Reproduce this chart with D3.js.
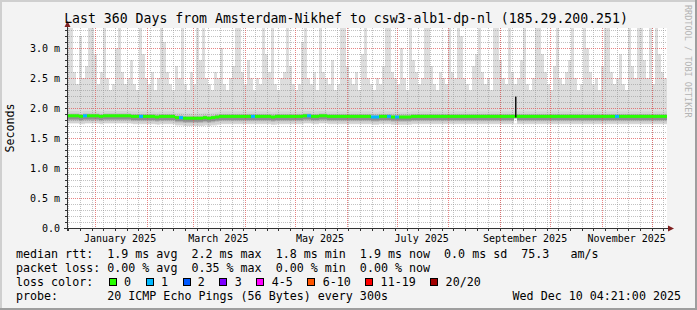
<!DOCTYPE html>
<html>
<head>
<meta charset="utf-8">
<script src="https://cdn.jsdelivr.net/npm/d3@7"></script>
<style>
  body { margin: 0; background: #fff; }
  svg { display: block; }
  text { font-family: "DejaVu Sans Mono", monospace; fill: #000; }
</style>
</head>
<body>
<svg id="chart" width="697" height="310"></svg>
<script>
// --- Data ---
const titleText = "Last 360 Days from Amsterdam-Nikhef to csw3-alb1-dp-nl (185.29.200.251)";
const startTime = new Date(Date.UTC(2024, 11, 15, 4, 21));
const endTime = new Date(Date.UTC(2025, 11, 10, 4, 21));

// highest ping per bin (ms), 200 bins over 360 days
const smokeMax = [
  3.35, 3.35, 2.6, 2.4, 3.2, 2.5, 2.7, 3.35, 3.35, 2.9, 2.4, 2.6, 3.35, 2.5, 2.3, 2.4, 3.0, 3.35, 2.6, 2.4, 2.5,
  2.8, 2.4, 2.3, 3.35, 2.9, 2.5, 2.4, 2.6, 2.3, 2.5, 3.35, 3.1, 2.6, 2.4, 2.3, 2.7, 2.5, 3.35, 2.4, 2.3, 2.6,
  2.4, 3.35, 2.8, 3.35, 2.5, 2.4, 2.3, 2.6, 2.5, 3.0, 2.4, 2.3, 2.5, 2.7, 3.35, 3.35, 2.6, 2.4, 2.8, 2.5, 2.3,
  2.5, 2.4, 3.35, 2.9, 2.6, 3.35, 2.4, 2.3, 2.5, 2.6, 3.35, 2.7, 2.4, 2.3, 2.4, 3.1, 3.35, 2.5, 2.4, 2.6, 2.3,
  3.35, 2.6, 2.5, 2.4, 2.8, 2.3, 2.4, 3.35, 3.35, 2.7, 2.5, 2.4, 2.6, 2.3, 2.9, 3.35, 2.5, 2.4, 2.3, 2.5, 2.4,
  2.7, 3.35, 3.35, 2.6, 2.5, 2.4, 3.0, 2.5, 2.3, 3.35, 2.8, 2.6, 2.4, 2.5, 3.35, 3.35, 2.7, 2.4, 2.3, 2.6, 2.5,
  2.4, 3.35, 2.6, 2.5, 3.35, 3.2, 2.5, 2.4, 2.3, 2.7, 2.9, 3.35, 2.6, 2.4, 2.5, 2.3, 3.35, 3.35, 2.8, 2.5, 2.4,
  3.35, 2.6, 2.4, 2.5, 2.8, 3.35, 2.4, 2.3, 2.5, 3.35, 3.35, 2.9, 2.6, 2.4, 2.3, 2.7, 3.35, 2.5, 2.4, 2.6, 2.8,
  3.35, 2.5, 2.3, 2.4, 3.35, 3.0, 2.6, 2.4, 2.5, 2.3, 2.7, 3.35, 3.35, 2.6, 2.4, 2.5, 2.9, 2.4, 2.3, 3.35, 2.7,
  2.5, 3.35, 3.35, 2.8, 2.5, 3.35, 2.4, 3.35, 2.9, 2.6, 2.5
];

// median rtt per bin (ms), 150 bins
const medianRtt = [
  1.87, 1.87, 1.87, 1.86, 1.87, 1.87, 1.87, 1.87, 1.86, 1.87,
  1.87, 1.87, 1.87, 1.87, 1.87, 1.87, 1.86, 1.86, 1.86, 1.86,
  1.86, 1.86, 1.85, 1.86, 1.86, 1.86, 1.86, 1.84, 1.84, 1.83,
  1.83, 1.83, 1.83, 1.83, 1.84, 1.83, 1.84, 1.85, 1.86, 1.86,
  1.86, 1.86, 1.86, 1.86, 1.86, 1.86, 1.86, 1.86, 1.86, 1.86,
  1.86, 1.85, 1.86, 1.86, 1.86, 1.86, 1.86, 1.86, 1.86, 1.87,
  1.87, 1.86, 1.86, 1.87, 1.87, 1.86, 1.86, 1.86, 1.86, 1.86,
  1.86, 1.86, 1.86, 1.86, 1.86, 1.86, 1.85, 1.85, 1.86, 1.86,
  1.86, 1.85, 1.85, 1.85, 1.85, 1.85, 1.86, 1.86, 1.86, 1.86,
  1.86, 1.86, 1.86, 1.86, 1.86, 1.86, 1.86, 1.86, 1.86, 1.86,
  1.86, 1.86, 1.86, 1.86, 1.86, 1.86, 1.86, 1.86, 1.86, 1.86,
  1.86, 1.86, 1.86, 1.86, 1.86, 1.86, 1.86, 1.86, 1.86, 1.86,
  1.86, 1.86, 1.86, 1.86, 1.86, 1.86, 1.86, 1.86, 1.86, 1.86,
  1.86, 1.86, 1.86, 1.86, 1.86, 1.86, 1.86, 1.86, 1.86, 1.86,
  1.86, 1.86, 1.86, 1.86, 1.86, 1.86, 1.86, 1.86, 1.86, 1.86
];

// short median spikes: [time, ms]
const medianSpikes = [[new Date(Date.UTC(2025, 8, 10, 0)), 2.19]];

// [bin, lost pings] where loss was not zero
const lossBins = [[4, 1], [18, 1], [28, 1], [46, 1], [60, 1], [76, 1], [77, 1], [80, 1], [82, 1], [137, 1]];

// inner smoke layers, offset from median (ms)
const innerLayers = [
  { lo: -0.12, hi: 0.08, fill: "#d2d2d2" },
  { lo: -0.08, hi: 0.04, fill: "#b8b8b8" },
  { lo: -0.06, hi: 0.0, fill: "#8e8e8e" }
];

const lossLegend = ["0", "1", "2", "3", "4-5", "6-10", "11-19", "20/20"];
const lossColors = ["#26ff00", "#00b8ff", "#0059ff", "#7e00ff", "#ff00ff", "#ff5500", "#ff0000", "#a10000"];

const statRows = [
  "median rtt:  1.9 ms avg  2.2 ms max  1.8 ms min  1.9 ms now  0.0 ms sd  75.3   am/s",
  "packet loss: 0.00 % avg  0.35 % max  0.00 % min  0.00 % now"
];
const probeText = "probe:       20 ICMP Echo Pings (56 Bytes) every 300s";
const dateText = "Wed Dec 10 04:21:00 2025";
const yMax = 3.3333;

// --- Layout ---
const svg = d3.select("#chart");
const W = 697, H = 310;
const plot = { left: 67, right: 667, top: 28, bottom: 228 };
const pre = (s) => s.replace(/ /g, "\u00a0");

// background + 3d frame
svg.append("rect").attr("width", W).attr("height", H).attr("fill", "#f3f3f3");
svg.append("rect").attr("x", 0).attr("y", 0).attr("width", W).attr("height", 2).attr("fill", "#cfcfcf");
svg.append("rect").attr("x", 0).attr("y", 0).attr("width", 2).attr("height", H).attr("fill", "#cfcfcf");
svg.append("rect").attr("x", 0).attr("y", H - 2).attr("width", W).attr("height", 2).attr("fill", "#9e9e9e");
svg.append("rect").attr("x", W - 2).attr("y", 0).attr("width", 2).attr("height", H).attr("fill", "#9e9e9e");

svg.append("rect")
  .attr("x", plot.left).attr("y", plot.top)
  .attr("width", plot.right - plot.left).attr("height", plot.bottom - plot.top)
  .attr("fill", "#fff");

const x = d3.scaleUtc().domain([startTime, endTime]).range([plot.left, plot.right]);
const y = d3.scaleLinear().domain([0, yMax]).range([plot.bottom, plot.top]);

const span = endTime - startTime;
const binsOf = (arr) => d3.range(arr.length + 1).map((i) => ({
  t: new Date(+startTime + (i / arr.length) * span),
  k: Math.min(i, arr.length - 1)
}));
const medianAt = (t) => medianRtt[Math.min(medianRtt.length - 1, Math.floor(((t - startTime) / span) * medianRtt.length))];

svg.append("clipPath").attr("id", "plotClip")
  .append("rect")
  .attr("x", plot.left).attr("y", plot.top)
  .attr("width", plot.right - plot.left).attr("height", plot.bottom - plot.top);

const g = svg.append("g").attr("clip-path", "url(#plotClip)");

// outer smoke
g.append("path")
  .datum(binsOf(smokeMax))
  .attr("fill", "#dddddd")
  .attr("d", d3.area().curve(d3.curveStepAfter)
    .x((d) => x(d.t))
    .y0((d) => y(medianAt(d.t) - 0.13))
    .y1((d) => y(smokeMax[d.k])));

const medBins = binsOf(medianRtt);
innerLayers.forEach((L) => {
  g.append("path")
    .datum(medBins)
    .attr("fill", L.fill)
    .attr("d", d3.area().curve(d3.curveStepAfter)
      .x((d) => x(d.t))
      .y0((d) => y(medianRtt[d.k] + L.lo))
      .y1((d) => y(medianRtt[d.k] + L.hi)));
});

// median spikes leave a gap in the smoke below them
medianSpikes.forEach(([t]) => {
  const sx = Math.round(x(t));
  g.append("rect").attr("x", sx - 1).attr("y", y(medianAt(t)) + 2)
    .attr("width", 3).attr("height", y(1.74) - y(medianAt(t)) - 2).attr("fill", "#fff");
});

// --- Grid (dotted, over the smoke) ---
const minorY = d3.range(0, yMax, 0.1).filter((v) => Math.abs(v * 2 - Math.round(v * 2)) > 0.01);
const majorY = d3.range(0, yMax, 0.5);
const weeks = d3.utcMonday.range(startTime, endTime);
const months = d3.utcMonth.range(startTime, endTime);
const px = (v) => Math.round(v) + 0.5;

const hPath = (vals) => vals.map((v) => `M${plot.left},${px(y(v))}H${plot.right}`).join("");
const vPath = (dates) => dates.map((d) => `M${px(x(d))},${plot.top}V${plot.bottom}`).join("");

const grid = svg.append("g").attr("fill", "none").attr("stroke-dasharray", "1,1");
grid.append("path").attr("d", hPath(minorY)).attr("stroke", "rgba(143,143,143,0.55)");
grid.append("path").attr("d", vPath(weeks)).attr("stroke", "rgba(143,143,143,0.55)");
grid.append("path").attr("d", hPath(majorY.slice(1))).attr("stroke", "rgba(222,80,80,0.7)");
grid.append("path").attr("d", vPath(months)).attr("stroke", "rgba(222,80,80,0.7)");

// --- Median line on top: black step + loss coloured band ---
const med = svg.append("g").attr("clip-path", "url(#plotClip)");
med.append("path")
  .datum(medBins)
  .attr("fill", "none")
  .attr("stroke", "#000")
  .attr("stroke-width", 1)
  .attr("d", d3.line().curve(d3.curveStepAfter).x((d) => x(d.t)).y((d) => y(medianRtt[d.k])));

const lossOf = new Map(lossBins);
const lossIndex = (l) => (l === 0 ? 0 : l <= 1 ? 1 : l <= 2 ? 2 : l <= 3 ? 3 : l <= 5 ? 4 : l <= 10 ? 5 : l <= 19 ? 6 : 7);

med.selectAll("rect.med")
  .data(medBins.slice(0, -1))
  .join("rect")
  .attr("class", "med")
  .attr("x", (d) => x(d.t))
  .attr("width", (d) => x(medBins[d.k + 1].t) - x(d.t))
  .attr("y", (d) => y(medianRtt[d.k]) - 1.5)
  .attr("height", 3)
  .attr("fill", (d) => lossColors[lossIndex(lossOf.get(d.k) || 0)]);

medianSpikes.forEach(([t, v]) => {
  const sx = Math.round(x(t));
  med.append("rect").attr("x", sx).attr("y", y(v))
    .attr("width", 1.5).attr("height", y(medianAt(t)) - y(v) + 1).attr("fill", "#111");
});

// --- Axes ---
const axis = svg.append("g").attr("fill", "none").attr("stroke", "#333");
axis.append("path").attr("d", `M${plot.left - 3},${px(plot.bottom)}H${plot.right + 4}`);
axis.append("path").attr("d", `M${px(plot.left)},${plot.bottom + 3}V${plot.top - 4}`);
axis.append("path").attr("d", d3.range(0, yMax, 0.1).map((v) => `M${plot.left - 2},${px(y(v))}H${plot.left}`).join(""));
axis.append("path").attr("d", weeks.map((d) => `M${px(x(d))},${plot.bottom}V${plot.bottom + 3}`).join(""));

// arrows
svg.append("path")
  .attr("d", `M${plot.left + 0.5 - 3},${plot.top - 1} L${plot.left + 0.5 + 3},${plot.top - 1} L${plot.left + 0.5},${plot.top - 7} Z`)
  .attr("fill", "#7f1f1f");
svg.append("path")
  .attr("d", `M${plot.right + 1},${plot.bottom + 0.5 - 3} L${plot.right + 1},${plot.bottom + 0.5 + 3} L${plot.right + 7},${plot.bottom + 0.5} Z`)
  .attr("fill", "#7f1f1f");

// y labels
svg.selectAll("text.yl").data(majorY).join("text").attr("class", "yl")
  .attr("x", 60).attr("y", (d) => y(d) + 3.6)
  .attr("text-anchor", "end").attr("font-size", 10)
  .text((d) => (d === 0 ? "0.0" : pre(d3.format(".1f")(d) + " m")));

// x labels every two months, centred in the month
const labelMonths = months.filter((m) => m.getUTCMonth() % 2 === 0);
svg.selectAll("text.xl").data(labelMonths).join("text").attr("class", "xl")
  .attr("x", (d) => x(d3.utcDay.offset(d, 15)))
  .attr("y", 241.5)
  .attr("text-anchor", "middle").attr("font-size", 10)
  .text((d) => pre(d3.utcFormat("%B %Y")(d)));

// title
svg.append("text").attr("x", 346).attr("y", 23).attr("text-anchor", "middle")
  .attr("font-size", 13.2).text(pre(titleText));

// axis title
svg.append("text").attr("transform", "translate(14,128) rotate(-90)")
  .attr("text-anchor", "middle").attr("font-size", 11.66).text("Seconds");

// watermark
svg.append("text").attr("transform", "translate(685,5) rotate(90)")
  .attr("font-size", 8.5).style("fill", "#b4b4b4").text(pre("RRDTOOL / TOBI OETIKER"));

// --- Legend ---
const lx = 16, fs = 11.66, cw = 7.02;
const legend = svg.append("g").attr("font-size", fs);
statRows.forEach((s, r) => {
  legend.append("text").attr("x", lx).attr("y", 258 + r * 14).text(pre(s));
});
legend.append("text").attr("x", lx).attr("y", 286).text(pre("loss color:"));
let cursor = 108.7;
lossLegend.forEach((lab, i) => {
  legend.append("rect").attr("x", Math.round(cursor) + 0.5).attr("y", 278.5).attr("width", 7).attr("height", 7)
    .attr("fill", lossColors[i]).attr("stroke", "#000").attr("stroke-width", 1);
  legend.append("text").attr("x", cursor + 15.3).attr("y", 286).text(lab);
  cursor += 15.3 + lab.length * cw + 14.6;
});
legend.append("text").attr("x", lx).attr("y", 300).text(pre(probeText));
legend.append("text").attr("x", 681).attr("y", 300).attr("text-anchor", "end").text(pre(dateText));
</script>
</body>
</html>
